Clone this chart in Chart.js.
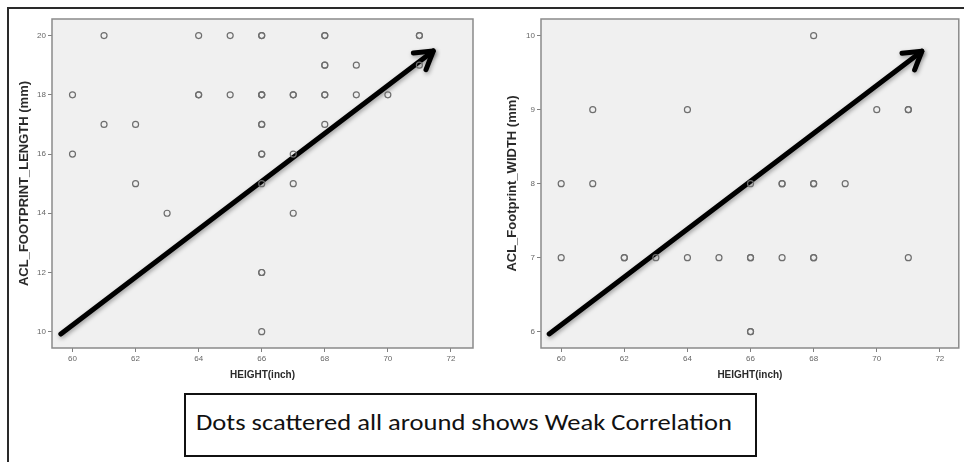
<!DOCTYPE html>
<html lang="en">
  <head>
    <meta charset="UTF-8" />
    <title>Height vs ACL footprint</title>
    <script src="https://cdn.jsdelivr.net/npm/chart.js@4.4.1/dist/chart.umd.min.js"></script>
    <style>
      body {
        margin: 0;
        width: 964px;
        height: 462px;
        background: #fff;
        position: relative;
        overflow: hidden;
        font-family: 'Liberation Sans', Arial, sans-serif;
      }
      .frame {
        position: absolute;
        left: 7px;
        top: 7px;
        width: 980px;
        height: 480px;
        border-top: 2px solid #2a2a2a;
        border-left: 2px solid #2a2a2a;
      }
      .chartBox {
        position: absolute;
        top: 0;
      }
      #note {
        position: absolute;
        left: 184px;
        top: 393px;
        width: 573px;
        height: 64px;
        box-sizing: border-box;
        border: 2.5px solid #111;
      }
      #note span {
        position: absolute;
        left: 10px;
        top: 13px;
        font-family: Carlito, 'Noto Sans', sans-serif;
        font-size: 22px;
        line-height: 30px;
        color: #111;
        white-space: nowrap;
        transform-origin: 0 0;
      }
    </style>
  </head>
  <body>
    <div class="frame"></div>
    <div class="chartBox" style="left: 0; width: 480px; height: 390px">
      <canvas id="lengthChart" width="480" height="390"></canvas>
    </div>
    <div class="chartBox" style="left: 480px; width: 484px; height: 390px">
      <canvas id="widthChart" width="484" height="390"></canvas>
    </div>
    <div id="note"><span>Dots scattered all around shows Weak Correlation</span></div>

    <script>
      // left plot: height vs footprint length (repeated rows = overlapping cases)
      const lengthHeights = [
        61, 64, 65, 66, 66, 68, 68, 71, 71,
        68, 68, 69, 71,
        60, 64, 64, 65, 66, 66, 66, 67, 67, 68, 68, 69, 70,
        61, 62, 66, 66, 68,
        60, 66, 66, 67,
        62, 66, 67,
        63, 67,
        66, 66,
        66,
      ];
      const lengthValues = [
        20, 20, 20, 20, 20, 20, 20, 20, 20,
        19, 19, 19, 19,
        18, 18, 18, 18, 18, 18, 18, 18, 18, 18, 18, 18, 18,
        17, 17, 17, 17, 17,
        16, 16, 16, 16,
        15, 15, 15,
        14, 14,
        12, 12,
        10,
      ];

      // right plot: height vs footprint width
      const widthHeights = [
        68,
        61, 64, 70, 71, 71,
        60, 61, 66, 67, 67, 68, 68, 69,
        60, 62, 62, 63, 64, 65, 66, 66, 67, 68, 68, 71,
        66, 66,
      ];
      const widthValues = [
        10,
        9, 9, 9, 9, 9,
        8, 8, 8, 8, 8, 8, 8, 8,
        7, 7, 7, 7, 7, 7, 7, 7, 7, 7, 7, 7,
        6, 6,
      ];

      // trend arrows drawn over the scatter
      const lengthArrowX = [59.63, 71.44];
      const lengthArrowY = [9.92, 19.48];
      const widthArrowX = [59.62, 71.43];
      const widthArrowY = [5.97, 9.79];

      const heightTicks = [60, 62, 64, 66, 68, 70, 72];
      const lengthTicks = [10, 12, 14, 16, 18, 20];
      const widthTicks = [6, 7, 8, 9, 10];

      const plotFrame = {
        id: 'plotFrame',
        beforeDatasetsDraw(chart) {
          const { ctx, chartArea: a } = chart;
          ctx.save();
          ctx.fillStyle = '#f0f0f0';
          ctx.fillRect(a.left, a.top, a.right - a.left, a.bottom - a.top);
          ctx.restore();
        },
        afterDraw(chart) {
          const { ctx, chartArea: a } = chart;
          ctx.save();
          ctx.strokeStyle = '#8a8a8a';
          ctx.lineWidth = 1.5;
          ctx.strokeRect(a.left, a.top, a.right - a.left, a.bottom - a.top);
          ctx.restore();
        },
      };

      const arrowHead = {
        id: 'arrowHead',
        beforeDatasetDraw(chart, args) {
          if (!chart.data.datasets[args.index].isArrow) return;
          const ctx = chart.ctx;
          ctx.save();
          ctx.shadowColor = 'rgba(0,0,0,0.35)';
          ctx.shadowBlur = 4;
          ctx.shadowOffsetX = 1;
          ctx.shadowOffsetY = 2;
        },
        afterDatasetDraw(chart, args) {
          if (!chart.data.datasets[args.index].isArrow) return;
          const ctx = chart.ctx;
          const pts = args.meta.data;
          const p0 = pts[pts.length - 2];
          const p1 = pts[pts.length - 1];
          const ang = Math.atan2(p1.y - p0.y, p1.x - p0.x) + Math.PI;
          const len = 20;
          ctx.strokeStyle = '#000';
          ctx.lineWidth = 5;
          ctx.lineCap = 'round';
          ctx.lineJoin = 'round';
          ctx.beginPath();
          ctx.moveTo(p1.x + len * Math.cos(ang + 0.55), p1.y + len * Math.sin(ang + 0.55));
          ctx.lineTo(p1.x, p1.y);
          ctx.lineTo(p1.x + len * Math.cos(ang - 0.55), p1.y + len * Math.sin(ang - 0.55));
          ctx.stroke();
          ctx.restore();
        },
      };

      function makeChart(id, xs, ys, arrowX, arrowY, yTicks, yTitle, o) {
        const points = xs.map((x, i) => ({ x: x, y: ys[i] }));
        const arrow = arrowX.map((x, i) => ({ x: x, y: arrowY[i] }));
        return new Chart(document.getElementById(id), {
          type: 'scatter',
          data: {
            datasets: [
              {
                data: points,
                pointStyle: 'circle',
                pointRadius: 3,
                pointBorderWidth: 1.2,
                borderColor: '#6e6e6e',
                backgroundColor: 'rgba(0,0,0,0)',
              },
              {
                type: 'line',
                isArrow: true,
                data: arrow,
                borderColor: '#000',
                borderWidth: 5,
                borderCapStyle: 'round',
                pointRadius: 0,
                fill: false,
              },
            ],
          },
          options: {
            responsive: false,
            animation: false,
            devicePixelRatio: 1,
            layout: { padding: { top: 19, right: o.padRight, left: 0, bottom: 0 } },
            plugins: {
              legend: { display: false },
              tooltip: { enabled: false },
            },
            scales: {
              x: {
                type: 'linear',
                min: o.xMin,
                max: o.xMax,
                afterBuildTicks: (axis) => {
                  axis.ticks = heightTicks.map((v) => ({ value: v }));
                },
                afterFit: (axis) => {
                  axis.height = 42;
                },
                grid: { drawOnChartArea: false, tickLength: 4, color: '#808080' },
                border: { display: false },
                ticks: {
                  padding: 2,
                  color: '#666',
                  font: { family: 'Liberation Sans', size: 8 },
                },
                title: {
                  display: true,
                  text: 'HEIGHT(inch)',
                  color: '#2a2a2a',
                  padding: { top: 0, bottom: 9 },
                  font: { family: 'Liberation Sans', size: 10, weight: 'bold' },
                },
              },
              y: {
                type: 'linear',
                min: o.yMin,
                max: o.yMax,
                afterBuildTicks: (axis) => {
                  axis.ticks = yTicks.map((v) => ({ value: v }));
                },
                afterFit: (axis) => {
                  axis.width = o.yWidth;
                },
                grid: { drawOnChartArea: false, tickLength: 4, color: '#808080' },
                border: { display: false },
                ticks: {
                  padding: 2,
                  color: '#666',
                  font: { family: 'Liberation Sans', size: 8 },
                },
                title: {
                  display: true,
                  text: yTitle,
                  color: '#2a2a2a',
                  padding: { top: o.titlePad, bottom: 0 },
                  font: { family: 'Liberation Sans', size: 13, weight: 'bold' },
                },
              },
            },
          },
          plugins: [plotFrame, arrowHead],
        });
      }

      makeChart('lengthChart', lengthHeights, lengthValues, lengthArrowX, lengthArrowY,
        lengthTicks, 'ACL_FOOTPRINT_LENGTH (mm)',
        { xMin: 59.35, xMax: 72.7, yMin: 9.45, yMax: 20.56, yWidth: 52, padRight: 7, titlePad: 17 });

      makeChart('widthChart', widthHeights, widthValues, widthArrowX, widthArrowY,
        widthTicks, 'ACL_Footprint_WIDTH (mm)',
        { xMin: 59.36, xMax: 72.6, yMin: 5.78, yMax: 10.226, yWidth: 61, padRight: 4, titlePad: 25 });

      // squeeze the note text to the width it has in the picture
      const note = document.querySelector('#note span');
      note.style.transform = 'scaleX(' + 536 / note.getBoundingClientRect().width + ')';
    </script>
  </body>
</html>
